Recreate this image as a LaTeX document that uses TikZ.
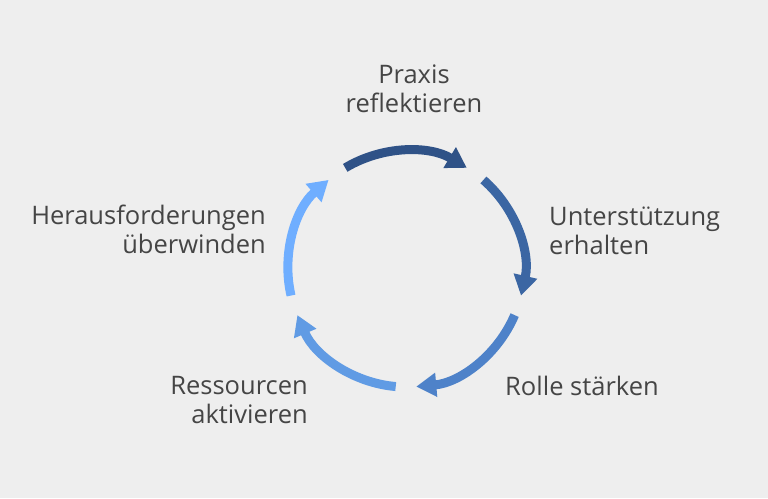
\documentclass[tikz,border=0pt]{standalone}
\usepackage{fontspec}
\setmainfont{Open Sans}
\usetikzlibrary{arrows.meta,calc}
\definecolor{bg}{HTML}{EEEEEE}
\definecolor{txt}{HTML}{454545}
\definecolor{cA}{HTML}{2F5287}
\definecolor{cB}{HTML}{3B66A3}
\definecolor{cC}{HTML}{4E82C9}
\definecolor{cD}{HTML}{609BE4}
\definecolor{cE}{HTML}{6FAEFF}
\tikzset{
  cyclearc/.style={line width=9pt, -{Triangle[length=20pt,width=23pt]}},
  lbl/.style={inner sep=0pt, text=txt, font=\fontsize{25.5pt}{28.5pt}\selectfont}
}
\begin{document}
\begin{tikzpicture}[x=1pt,y=-1pt]
\useasboundingbox (0,0) rectangle (768,498);
\fill[bg] (0,0) rectangle (768,498);
\coordinate (ctr) at (406,269);
\foreach \k/\col in {0/cA,1/cB,2/cC,3/cD,4/cE}{
  \pgfmathsetmacro{\sa}{-121+72*\k}
  \pgfmathsetmacro{\ea}{-59+72*\k}
  \coordinate (s\k) at ($(ctr)+(\sa:118)$);
  \draw[cyclearc, draw=\col] (s\k) arc[start angle=\sa, end angle=\ea, radius=118];
}
\node[lbl, anchor=base, align=center] (praxis) at (414,112) {Praxis\\reflektieren};
\node[lbl, anchor=base west, align=left] (unter) at (549,254) {Unterstützung\\erhalten};
\node[lbl, anchor=base west] (rolle) at (505,395) {Rolle stärken};
\node[lbl, anchor=base east, align=right] (ress) at (308,423) {Ressourcen\\aktivieren};
\node[lbl, anchor=base east, align=right] (herau) at (266,253) {Herausforderungen\\überwinden};
\end{tikzpicture}
\end{document}
